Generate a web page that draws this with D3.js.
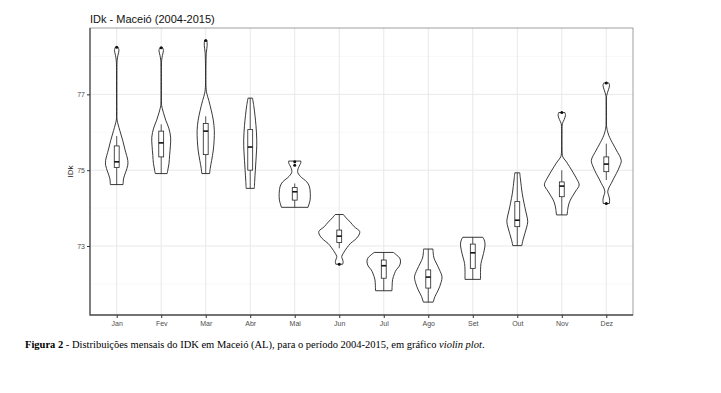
<!DOCTYPE html>
<html>
<head>
<meta charset="utf-8">
<script src="https://cdn.jsdelivr.net/npm/d3@7"></script>
<style>
  body { margin: 0; background: #fff; }
  svg { display: block; font-family: "Liberation Sans", Arial, sans-serif; }
  .tick text { fill: #4d4d4d; font-size: 7px; }
  .tick line { stroke: #333; }
</style>
</head>
<body>
<svg id="chart" width="721" height="393"></svg>
<script>
// months on the x axis
const months = ["Jan", "Fev", "Mar", "Abr", "Mai", "Jun", "Jul", "Ago", "Set", "Out", "Nov", "Dez"];

// violin outlines: [IDk value, relative half width]
const violins = [
  [[78.24,0.07],[78.16,0.11],[78.03,0.06],[77.89,0.02],[77.63,0.01],[76.45,0.01],[76.32,0.02],[76.05,0.15],[75.79,0.29],[75.53,0.41],[75.26,0.54],[75.13,0.54],[74.95,0.44],[74.79,0.34],[74.62,0.31]],
  [[78.23,0.07],[78.16,0.11],[78.03,0.06],[77.89,0.02],[77.63,0.01],[76.84,0.01],[76.71,0.02],[76.53,0.10],[76.32,0.22],[76.11,0.37],[75.87,0.46],[75.66,0.45],[75.39,0.41],[75.18,0.38],[75.00,0.32],[74.91,0.29]],
  [[78.42,0.06],[78.29,0.07],[78.11,0.03],[77.89,0.015],[77.24,0.01],[77.03,0.05],[76.84,0.15],[76.58,0.27],[76.32,0.37],[76.05,0.42],[75.79,0.41],[75.53,0.37],[75.26,0.29],[75.05,0.22],[74.91,0.19]],
  [[76.90,0.11],[76.71,0.17],[76.45,0.23],[76.18,0.28],[75.79,0.32],[75.53,0.31],[75.26,0.28],[75.00,0.25],[74.74,0.22],[74.52,0.20]],
  [[75.24,0.30],[75.18,0.29],[75.11,0.22],[74.96,0.14],[74.84,0.27],[74.69,0.59],[74.58,0.71],[74.39,0.76],[74.21,0.75],[74.11,0.70],[74.02,0.65]],
  [[73.83,0.20],[73.74,0.34],[73.63,0.54],[73.51,0.73],[73.38,1.00],[73.26,0.93],[73.16,0.76],[73.07,0.55],[72.95,0.37],[72.81,0.20],[72.72,0.12],[72.66,0.15],[72.59,0.19],[72.52,0.17]],
  [[72.83,0.47],[72.76,0.63],[72.68,0.78],[72.58,0.82],[72.47,0.76],[72.37,0.61],[72.28,0.53],[72.11,0.43],[71.95,0.41],[71.82,0.40]],
  [[72.92,0.23],[72.82,0.24],[72.68,0.28],[72.55,0.39],[72.37,0.55],[72.19,0.67],[72.03,0.62],[71.84,0.49],[71.67,0.33],[71.52,0.24]],
  [[73.23,0.49],[73.16,0.56],[73.05,0.60],[72.89,0.56],[72.71,0.48],[72.54,0.40],[72.37,0.38],[72.12,0.38]],
  [[74.93,0.12],[74.74,0.16],[74.39,0.24],[74.13,0.33],[73.95,0.40],[73.79,0.47],[73.64,0.51],[73.50,0.46],[73.33,0.37],[73.16,0.28],[73.01,0.22]],
  [[76.52,0.15],[76.45,0.18],[76.34,0.12],[76.23,0.03],[76.05,0.01],[75.53,0.01],[75.35,0.05],[75.24,0.20],[75.09,0.38],[74.95,0.54],[74.79,0.71],[74.61,0.85],[74.45,0.68],[74.30,0.51],[74.18,0.39],[74.03,0.31],[73.82,0.26]],
  [[77.30,0.12],[77.24,0.16],[77.13,0.11],[76.97,0.02],[76.84,0.01],[76.18,0.01],[76.05,0.05],[75.92,0.12],[75.79,0.23],[75.53,0.49],[75.26,0.73],[75.11,0.66],[74.91,0.49],[74.79,0.37],[74.65,0.24],[74.53,0.12],[74.43,0.07],[74.34,0.11],[74.24,0.16],[74.12,0.15]]
];

// box plot stats: [lower whisker, q1, median, q3, upper whisker]
const boxes = [
  [74.62, 75.07, 75.22, 75.64, 75.90],
  [74.91, 75.35, 75.72, 76.03, 76.21],
  [74.91, 75.41, 76.03, 76.23, 76.42],
  [74.52, 75.00, 75.61, 76.07, 76.90],
  [74.02, 74.21, 74.43, 74.54, 74.65],
  [72.94, 73.09, 73.26, 73.42, 73.83],
  [71.82, 72.15, 72.48, 72.63, 72.83],
  [71.52, 71.89, 72.18, 72.37, 72.92],
  [72.12, 72.41, 72.82, 73.05, 73.23],
  [73.01, 73.51, 73.68, 74.17, 74.93],
  [73.82, 74.30, 74.58, 74.69, 75.00],
  [74.74, 74.96, 75.16, 75.35, 75.70]
];

const outliers = [[78.24], [78.23], [78.42], [], [75.22, 75.13], [72.52], [], [], [], [], [76.52], [77.30, 74.12]];

const yTicks = [73, 75, 77];
const yMinor = [72, 74, 76, 78];

const panel = {left: 90, right: 633, top: 28, bottom: 315};
const svg = d3.select("#chart");

const x = d3.scalePoint().domain(months).range([panel.left, panel.right]).padding(0.6);
const y = d3.scaleLinear().domain([71.18, 78.75]).range([panel.bottom, panel.top]);
const step = x.step();
const halfMax = 0.46 * step;
const boxW = 0.11 * step;

// grid
svg.append("g").selectAll("line").data(yMinor).join("line")
  .attr("x1", panel.left).attr("x2", panel.right)
  .attr("y1", d => y(d)).attr("y2", d => y(d))
  .attr("stroke", "#f3f3f3").attr("stroke-width", 0.6);
svg.append("g").selectAll("line").data(yTicks).join("line")
  .attr("x1", panel.left).attr("x2", panel.right)
  .attr("y1", d => y(d)).attr("y2", d => y(d))
  .attr("stroke", "#e8e8e8").attr("stroke-width", 1);
svg.append("g").selectAll("line").data(months).join("line")
  .attr("x1", d => x(d)).attr("x2", d => x(d))
  .attr("y1", panel.top).attr("y2", panel.bottom)
  .attr("stroke", "#e8e8e8").attr("stroke-width", 1);

// violins
const g = svg.append("g");
months.forEach(function(m, i){
  const cx = x(m);
  const area = d3.area()
    .y(d => y(d[0]))
    .x0(d => cx - d[1] * halfMax)
    .x1(d => cx + d[1] * halfMax)
    .curve(d3.curveCatmullRom.alpha(0.5));
  g.append("path")
    .datum(violins[i])
    .attr("d", area)
    .attr("fill", "#fff")
    .attr("stroke", "#222")
    .attr("stroke-width", 0.9);

  const b = boxes[i];
  g.append("line").attr("x1", cx).attr("x2", cx).attr("y1", y(b[0])).attr("y2", y(b[1]))
    .attr("stroke", "#222").attr("stroke-width", 0.8);
  g.append("line").attr("x1", cx).attr("x2", cx).attr("y1", y(b[3])).attr("y2", y(b[4]))
    .attr("stroke", "#222").attr("stroke-width", 0.8);
  g.append("rect")
    .attr("x", cx - boxW / 2).attr("width", boxW)
    .attr("y", y(b[3])).attr("height", y(b[1]) - y(b[3]))
    .attr("fill", "#fff").attr("stroke", "#222").attr("stroke-width", 0.8);
  g.append("line").attr("x1", cx - boxW / 2).attr("x2", cx + boxW / 2)
    .attr("y1", y(b[2])).attr("y2", y(b[2]))
    .attr("stroke", "#111").attr("stroke-width", 1.6);

  g.selectAll(null).data(outliers[i]).join("circle")
    .attr("cx", cx).attr("cy", d => y(d)).attr("r", 1.5)
    .attr("fill", "#111");
});

// panel border
svg.append("rect")
  .attr("x", panel.left).attr("y", panel.top)
  .attr("width", panel.right - panel.left).attr("height", panel.bottom - panel.top)
  .attr("fill", "none").attr("stroke", "#888").attr("stroke-width", 0.8);
svg.append("path")
  .attr("d", `M${panel.left},${panel.top}V${panel.bottom}H${panel.right}`)
  .attr("fill", "none").attr("stroke", "#555").attr("stroke-width", 1.3);

// axes
const yAxis = svg.append("g")
  .attr("transform", `translate(${panel.left},0)`)
  .call(d3.axisLeft(y).tickValues(yTicks).tickSize(3).tickPadding(2));
yAxis.select(".domain").remove();

const xAxis = svg.append("g")
  .attr("transform", `translate(0,${panel.bottom})`)
  .call(d3.axisBottom(x).tickSize(3).tickPadding(3));
xAxis.select(".domain").remove();

// labels
svg.append("text")
  .attr("x", 90).attr("y", 22.5)
  .attr("font-size", 11).attr("fill", "#111")
  .text("IDk - Maceió (2004-2015)");

svg.append("text")
  .attr("transform", `translate(73,${(panel.top + panel.bottom) / 2}) rotate(-90)`)
  .attr("text-anchor", "middle")
  .attr("font-size", 8).attr("fill", "#222")
  .text("IDk");

const cap = svg.append("text")
  .attr("x", 25).attr("y", 348)
  .attr("font-family", "'Liberation Serif', 'Times New Roman', serif")
  .attr("font-size", 10.5).attr("fill", "#000");
cap.append("tspan").attr("font-weight", "bold").text("Figura 2");
cap.append("tspan").text(" - Distribuições mensais do IDK em Maceió (AL), para o período 2004-2015, em gráfico ");
cap.append("tspan").attr("font-style", "italic").text("violin plot");
cap.append("tspan").text(".");
</script>
</body>
</html>
